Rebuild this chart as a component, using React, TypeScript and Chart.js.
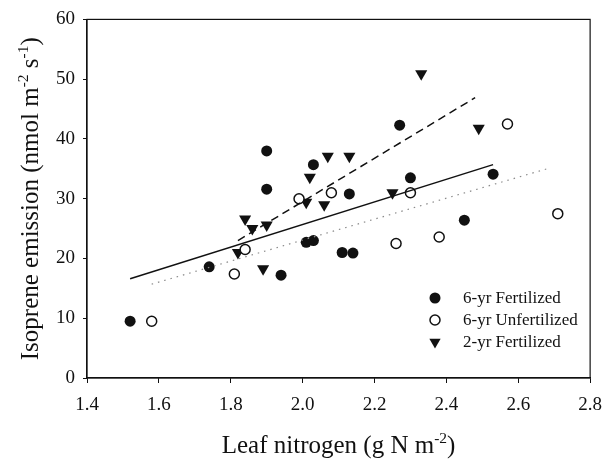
import React, { useEffect, useRef } from "react";
import { Chart, registerables } from "chart.js";

Chart.register(...registerables);

// ---- Data ----
const fertN = [1.52, 1.74, 1.94, 1.90, 1.90, 2.03, 2.01, 2.03, 2.13, 2.11, 2.14, 2.27, 2.30, 2.53, 2.45];
const fertIso = [9.5, 18.6, 17.2, 38.0, 31.6, 35.7, 22.7, 23.0, 30.8, 21.0, 20.9, 42.3, 33.5, 34.1, 26.4];

const unfertN = [1.58, 1.81, 1.84, 1.99, 2.08, 2.30, 2.26, 2.38, 2.57, 2.71];
const unfertIso = [9.5, 17.4, 21.5, 30.0, 31.0, 31.0, 22.5, 23.6, 42.5, 27.5];

const yr2N = [1.82, 1.84, 1.86, 1.89, 1.90, 2.01, 2.02, 2.06, 2.07, 2.13, 2.25, 2.33, 2.49];
const yr2Iso = [21.0, 26.6, 25.0, 18.3, 25.6, 29.4, 33.6, 29.0, 37.1, 37.1, 31.0, 50.9, 41.8];

// regression lines (end points)
const fertLineN = [1.52, 2.53];
const fertLineIso = [16.6, 35.7];
const yr2LineN = [1.82, 2.48];
const yr2LineIso = [23.0, 46.9];
const unfertLineN = [1.58, 2.68];
const unfertLineIso = [15.7, 35.0];

const xTickValues = [1.4, 1.6, 1.8, 2.0, 2.2, 2.4, 2.6, 2.8];
const yTickValues = [0, 10, 20, 30, 40, 50, 60];

const seriesLabels = ["6-yr Fertilized", "6-yr Unfertilized", "2-yr Fertilized"];
const xTitleParts = [{ t: "Leaf nitrogen (g N m" }, { t: "-2", sup: true }, { t: ")" }];
const yTitleParts = [
  { t: "Isoprene emission (nmol m" },
  { t: "-2", sup: true },
  { t: " s" },
  { t: "-1", sup: true },
  { t: ")" },
];

const SERIF = "'Liberation Serif', 'Times New Roman', serif";
const INK = "#111111";

const zip = (xs: number[], ys: number[]) => xs.map((x, i) => ({ x, y: ys[i] }));

type Part = { t: string; sup?: boolean };

function drawRich(ctx: CanvasRenderingContext2D, parts: Part[], size: number) {
  const supSize = size * 0.62;
  let total = 0;
  const widths = parts.map((p) => {
    ctx.font = `${p.sup ? supSize : size}px ${SERIF}`;
    const w = ctx.measureText(p.t).width;
    total += w;
    return w;
  });
  let x = -total / 2;
  ctx.textAlign = "left";
  ctx.textBaseline = "alphabetic";
  parts.forEach((p, i) => {
    ctx.font = `${p.sup ? supSize : size}px ${SERIF}`;
    ctx.fillText(p.t, x, p.sup ? -size * 0.4 : 0);
    x += widths[i];
  });
}

function drawMarker(ctx: CanvasRenderingContext2D, kind: number, x: number, y: number) {
  ctx.save();
  ctx.fillStyle = INK;
  ctx.strokeStyle = INK;
  ctx.beginPath();
  if (kind === 0) {
    ctx.arc(x, y, 5.5, 0, Math.PI * 2);
    ctx.fill();
  } else if (kind === 1) {
    ctx.lineWidth = 1.5;
    ctx.fillStyle = "#ffffff";
    ctx.arc(x, y, 5, 0, Math.PI * 2);
    ctx.fill();
    ctx.stroke();
  } else {
    const r = 6.5;
    ctx.moveTo(x, y + r);
    ctx.lineTo(x - r * 0.866, y - r / 2);
    ctx.lineTo(x + r * 0.866, y - r / 2);
    ctx.closePath();
    ctx.fill();
  }
  ctx.restore();
}

const decorPlugin = {
  id: "decor",
  afterDraw(chart: any) {
    const ctx: CanvasRenderingContext2D = chart.ctx;
    const a = chart.chartArea;
    ctx.save();
    // frame
    ctx.strokeStyle = INK;
    ctx.lineWidth = 1.2;
    ctx.strokeRect(a.left, a.top, a.right - a.left, a.bottom - a.top);
    ctx.fillStyle = INK;
    // x title
    ctx.save();
    ctx.translate((a.left + a.right) / 2, 453);
    drawRich(ctx, xTitleParts, 25);
    ctx.restore();
    // y title
    ctx.save();
    ctx.translate(38, (a.top + a.bottom) / 2);
    ctx.rotate(-Math.PI / 2);
    drawRich(ctx, yTitleParts, 25);
    ctx.restore();
    // legend
    const rows = [298, 320, 342];
    seriesLabels.forEach((lab, i) => {
      drawMarker(ctx, i, 435, rows[i]);
      ctx.fillStyle = INK;
      ctx.font = `17px ${SERIF}`;
      ctx.textAlign = "left";
      ctx.textBaseline = "middle";
      ctx.fillText(lab, 463, rows[i] + 1);
    });
    ctx.restore();
  },
};

export default function App() {
  const ref = useRef<HTMLCanvasElement | null>(null);
  useEffect(() => {
    document.body.style.margin = "0";
    if (!ref.current) return;
    const chart = new Chart(ref.current, {
      type: "scatter",
      data: {
        datasets: [
          {
            label: "fertLine",
            data: zip(fertLineN, fertLineIso),
            showLine: true,
            borderColor: INK,
            borderWidth: 1.5,
            pointRadius: 0,
          },
          {
            label: "yr2Line",
            data: zip(yr2LineN, yr2LineIso),
            showLine: true,
            borderColor: INK,
            borderWidth: 1.5,
            borderDash: [8, 5],
            pointRadius: 0,
          },
          {
            label: "unfertLine",
            data: zip(unfertLineN, unfertLineIso),
            showLine: true,
            borderColor: "#8a8a8a",
            borderWidth: 1.2,
            borderDash: [1.5, 5],
            pointRadius: 0,
          },
          {
            label: seriesLabels[0],
            data: zip(fertN, fertIso),
            pointStyle: "circle",
            pointRadius: 5.5,
            backgroundColor: INK,
            borderColor: INK,
            borderWidth: 0,
          },
          {
            label: seriesLabels[1],
            data: zip(unfertN, unfertIso),
            pointStyle: "circle",
            pointRadius: 5,
            backgroundColor: "#ffffff",
            borderColor: INK,
            borderWidth: 1.5,
          },
          {
            label: seriesLabels[2],
            data: zip(yr2N, yr2Iso),
            pointStyle: "triangle",
            pointRotation: 180,
            pointRadius: 7,
            backgroundColor: INK,
            borderColor: INK,
            borderWidth: 0,
          },
        ],
      },
      options: {
        responsive: false,
        animation: false,
        layout: { padding: { left: 0, top: 16, right: 14, bottom: 0 } },
        plugins: { legend: { display: false }, tooltip: { enabled: false } },
        scales: {
          x: {
            type: "linear",
            min: 1.4,
            max: 2.8,
            afterFit: (s: any) => {
              s.height = 82;
            },
            afterBuildTicks: (s: any) => {
              s.ticks = xTickValues.map((v) => ({ value: v }));
            },
            ticks: {
              color: INK,
              padding: 11,
              font: { family: SERIF, size: 19 },
              callback: (v: any) => Number(v).toFixed(1),
              maxRotation: 0,
            },
            grid: { drawOnChartArea: false, drawTicks: true, tickLength: 5, color: INK },
            border: { display: true, color: INK, width: 1.2 },
          },
          y: {
            type: "linear",
            min: 0,
            max: 60,
            afterFit: (s: any) => {
              s.width = 87;
            },
            afterBuildTicks: (s: any) => {
              s.ticks = yTickValues.map((v) => ({ value: v }));
            },
            ticks: {
              color: INK,
              padding: 8,
              font: { family: SERIF, size: 19 },
            },
            grid: { drawOnChartArea: false, drawTicks: true, tickLength: 4, color: INK },
            border: { display: true, color: INK, width: 1.2 },
          },
        },
      },
      plugins: [decorPlugin],
    } as any);
    return () => chart.destroy();
  }, []);
  return <canvas ref={ref} width={613} height={460} style={{ display: "block" }} />;
}
